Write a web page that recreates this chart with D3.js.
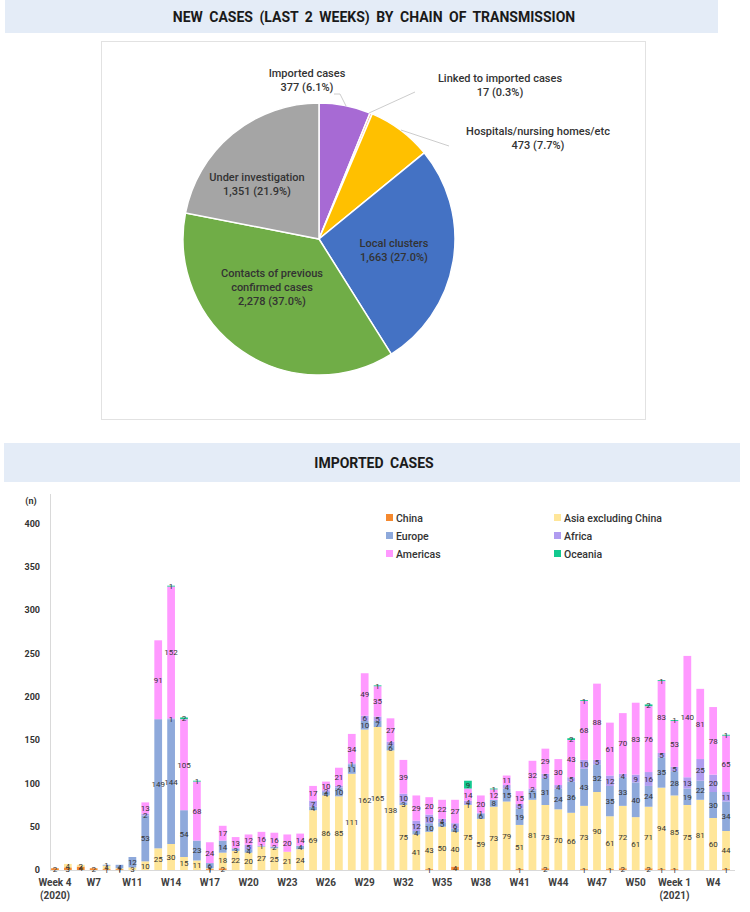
<!DOCTYPE html>
<html>
<head>
<meta charset="utf-8">
<script src="https://cdn.jsdelivr.net/npm/d3@7"></script>
<style>
  body { margin: 0; background: #fff; }
  text { font-family: Roboto, "Noto Sans", sans-serif; }
</style>
</head>
<body>
<svg id="chart" width="750" height="912"></svg>
<script>
// ---- pie data: new cases (last 2 weeks) by chain of transmission ----
const pieNames = ["Imported cases", "Linked to imported cases", "Hospitals/nursing homes/etc",
                  "Local clusters", "Contacts of previous confirmed cases", "Under investigation"];
const pieValues = [377, 17, 473, 1663, 2278, 1351];
const piePct = ["6.1%", "0.3%", "7.7%", "27.0%", "37.0%", "21.9%"];
const pieColors = ["#A76AD4", "#F4B183", "#FFC000", "#4472C4", "#70AD47", "#A5A5A5"];

// ---- bar data: imported cases per week, by region ----
const tickLabels = ["Week 4|(2020)", "W7", "W11", "W14", "W17", "W20", "W23", "W26", "W29",
                    "W32", "W35", "W38", "W41", "W44", "W47", "W50", "Week 1|(2021)", "W4"];
const regions = ["China", "Asia excluding China", "Europe", "Africa", "Americas", "Oceania"];
const china    = [2,3,4,2,1,1,0,0,0,0,0,0,1,2,0,0,0,0,0,0,0,0,0,0,0,0,0,0,0,1,0,4,0,0,0,0,1,0,2,0,0,1,0,1,2,0,2,1,1,0,0,0,1];
const asia     = [0,4,2,0,4,1,3,10,25,30,15,11,1,18,22,20,27,25,21,24,69,86,85,111,162,165,138,75,41,43,50,40,75,59,73,79,51,81,73,70,66,73,90,61,72,61,71,94,85,75,81,60,44];
const europe   = [0,0,0,0,1,4,12,53,149,144,54,23,6,14,3,4,1,2,0,4,4,4,10,11,10,7,6,3,4,10,5,4,1,6,8,15,19,11,31,24,36,43,32,35,33,40,24,35,28,19,22,30,34];
const africa   = [0,0,0,0,0,0,0,2,0,1,0,0,0,0,0,5,0,0,0,0,7,2,2,1,6,5,4,10,12,10,4,6,4,1,0,4,5,2,5,4,5,10,5,12,4,9,16,5,5,13,25,20,11];
const americas = [0,0,0,0,0,0,0,13,91,152,105,68,24,17,13,12,16,16,20,14,17,10,21,34,49,35,27,39,29,20,22,27,14,20,12,11,15,32,29,30,43,68,88,61,70,83,76,83,53,140,81,78,65];
const oceania  = [0,0,0,0,0,0,0,0,0,1,2,1,0,0,0,0,0,0,0,0,0,0,0,0,0,1,0,0,0,0,0,0,9,0,1,0,0,0,0,0,2,1,0,0,0,0,2,1,1,0,0,0,1];
const regionColors = ["#F5892F", "#FFE699", "#8EA9DB", "#B09CF0", "#FF99FF", "#12C98F"];
const yTicks = [0, 50, 100, 150, 200, 250, 300, 350, 400];

const svg = d3.select("#chart");

// section header bands
function header(x, y, w, h, label) {
  svg.append("rect").attr("x", x).attr("y", y).attr("width", w).attr("height", h)
    .attr("fill", "#E4ECF7");
  svg.append("text").attr("x", 374).attr("y", y + h / 2 + 5)
    .attr("text-anchor", "middle").attr("font-size", 14).attr("font-weight", 700)
    .attr("word-spacing", 3).attr("fill", "#1a1a1a").text(label);
}
header(5, 0, 713, 33, "NEW CASES (LAST 2 WEEKS) BY CHAIN OF TRANSMISSION");
header(4, 443, 736, 39, "IMPORTED CASES");

// ---------------- pie ----------------
svg.append("rect").attr("x", 101.5).attr("y", 41.5).attr("width", 544).attr("height", 378)
  .attr("fill", "#fff").attr("stroke", "#E2E2E2");

const pieRows = pieNames.map((n, i) => ({ name: n, value: pieValues[i], pct: piePct[i], color: pieColors[i] }));
const pie = d3.pie().value(d => d.value).sort(null);
const arc = d3.arc().innerRadius(0).outerRadius(136);
const pg = svg.append("g").attr("transform", "translate(319,239)");
pg.selectAll("path").data(pie(pieRows)).enter().append("path")
  .attr("d", arc).attr("fill", d => d.data.color)
  .attr("stroke", "#fff").attr("stroke-width", 1.5);

// label anchors (relative to pie centre) and line breaks
const pieLabelPos = [
  { dx: -12, dy: -162, lines: ["Imported cases"] },
  { dx: 181, dy: -157, lines: ["Linked to imported cases"] },
  { dx: 219, dy: -104, lines: ["Hospitals/nursing homes/etc"] },
  { dx: 75, dy: 8, lines: ["Local clusters"] },
  { dx: -47, dy: 38, lines: ["Contacts of previous", "confirmed cases"] },
  { dx: -62, dy: -58, lines: ["Under investigation"] }
];
pieRows.forEach((d, i) => {
  const p = pieLabelPos[i];
  const t = pg.append("text").attr("text-anchor", "middle")
    .attr("font-size", 11).attr("font-weight", 500).attr("fill", "#333");
  const lines = p.lines.concat([d3.format(",")(d.value) + "  (" + d.pct + ")"]);
  lines.forEach((l, k) => {
    t.append("tspan").attr("x", p.dx).attr("y", p.dy + k * 14.2).text(l);
  });
});
// leader lines
const leaders = [
  [[15, -145], [21, -145], [27, -133]],
  [[96, -147], [50, -126]],
  [[130, -93], [82, -109]]
];
leaders.forEach(pts => {
  pg.append("path").attr("d", d3.line()(pts)).attr("fill", "none")
    .attr("stroke", "#BFBFBF").attr("stroke-width", 0.8);
});

// ---------------- stacked bars ----------------
const n = china.length;
const weekIdx = d3.range(n);
const rows = weekIdx.map(i => ({
  i: i,
  "China": china[i], "Asia excluding China": asia[i], "Europe": europe[i],
  "Africa": africa[i], "Americas": americas[i], "Oceania": oceania[i]
}));
const stack = d3.stack().keys(regions)(rows);

const x = d3.scaleBand().domain(weekIdx).range([48.5, 732.5]).paddingInner(0.4).paddingOuter(0.2);
const y = d3.scaleLinear().domain([0, 400]).range([870, 523.3]);
const color = d3.scaleOrdinal().domain(regions).range(regionColors);

// axes lines
svg.append("line").attr("x1", 50.5).attr("x2", 50.5).attr("y1", 494).attr("y2", 870)
  .attr("stroke", "#D9D9D9");
svg.append("line").attr("x1", 50).attr("x2", 735).attr("y1", 870.5).attr("y2", 870.5)
  .attr("stroke", "#D9D9D9");

const yAxis = svg.append("g").attr("transform", "translate(50,0)")
  .call(d3.axisLeft(y).tickValues(yTicks).tickSize(0).tickPadding(10));
yAxis.select(".domain").remove();
yAxis.selectAll("text").attr("font-size", 9).attr("font-weight", 700).attr("fill", "#333")
  .attr("font-family", "Roboto, sans-serif");
svg.append("text").attr("x", 31).attr("y", 504).attr("text-anchor", "middle")
  .attr("font-size", 9).attr("font-weight", 700).attr("fill", "#333").text("(n)");

const xAxis = svg.append("g").attr("transform", "translate(0,870)")
  .call(d3.axisBottom(x).tickValues(weekIdx.filter(i => i % 3 === 0)).tickSize(0).tickPadding(9)
    .tickFormat(i => tickLabels[i / 3].split("|")[0]));
xAxis.select(".domain").remove();
xAxis.selectAll("text").attr("font-size", 10).attr("font-weight", 700).attr("fill", "#404040")
  .attr("font-family", "Roboto, sans-serif");
xAxis.selectAll(".tick").each(function (i) {
  const parts = tickLabels[i / 3].split("|");
  if (parts.length > 1) {
    d3.select(this).append("text").attr("y", 29).attr("text-anchor", "middle")
      .attr("font-size", 10).attr("font-weight", 700).attr("fill", "#404040")
      .attr("font-family", "Roboto, sans-serif").text(parts[1]);
  }
});

const layers = svg.append("g").selectAll("g").data(stack).enter().append("g")
  .attr("fill", d => color(d.key));
layers.selectAll("rect").data(d => d).enter().append("rect")
  .attr("x", d => x(d.data.i)).attr("width", x.bandwidth())
  .attr("y", d => y(d[1])).attr("height", d => y(d[0]) - y(d[1]));

// value labels
const labelG = svg.append("g");
stack.forEach(layer => {
  layer.forEach(d => {
    const v = d[1] - d[0];
    if (v <= 0) return;
    labelG.append("text")
      .attr("x", x(d.data.i) + x.bandwidth() / 2)
      .attr("y", (y(d[0]) + y(d[1])) / 2 + 3)
      .attr("text-anchor", "middle").attr("font-size", 8).attr("fill", "#333")
      .text(v);
  });
});

// legend
const legendPos = [[386, 518], [554, 518], [386, 536], [554, 536], [386, 554], [554, 554]];
const legendOrder = ["China", "Asia excluding China", "Europe", "Africa", "Americas", "Oceania"];
legendOrder.forEach((r, k) => {
  const [lx, ly] = legendPos[k];
  svg.append("rect").attr("x", lx).attr("y", ly - 4).attr("width", 7).attr("height", 7)
    .attr("fill", color(r));
  svg.append("text").attr("x", lx + 10).attr("y", ly + 3.5).attr("font-size", 10.5)
    .attr("font-weight", 500).attr("fill", "#333").text(r);
});
</script>
</body>
</html>
